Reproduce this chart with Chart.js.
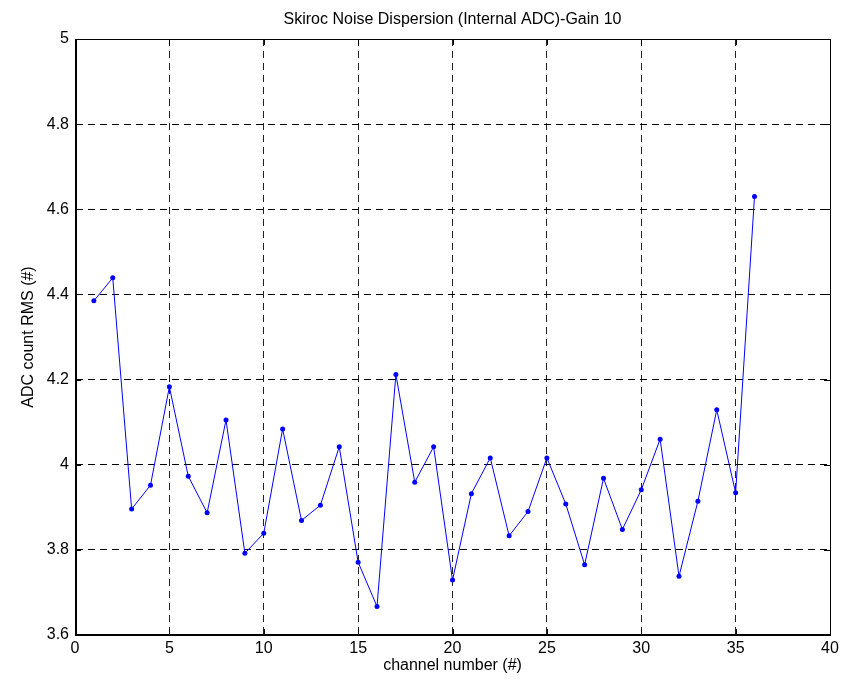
<!DOCTYPE html>
<html>
<head>
<meta charset="utf-8">
<script src="https://cdn.jsdelivr.net/npm/chart.js@4/dist/chart.umd.min.js"></script>
<style>
  html, body { margin: 0; padding: 0; background: #fff; }
  #grafico { display: block; }
</style>
</head>
<body>
<canvas id="grafico" width="847" height="680"></canvas>
<script>
// datos
const canales = [1, 2, 3, 4, 5, 6, 7, 8, 9, 10, 11, 12, 13, 14, 15, 16, 17, 18,
  19, 20, 21, 22, 23, 24, 25, 26, 27, 28, 29, 30, 31, 32, 33, 34, 35, 36];
const ruidoRms = [4.385, 4.439, 3.896, 3.952, 4.183, 3.973, 3.887, 4.105, 3.792, 3.839,
  4.084, 3.869, 3.905, 4.042, 3.771, 3.667, 4.212, 3.959, 4.042, 3.729,
  3.932, 4.016, 3.833, 3.890, 4.016, 3.908, 3.765, 3.968, 3.848, 3.941,
  4.060, 3.738, 3.914, 4.129, 3.934, 4.630];
const ticksX = [0, 5, 10, 15, 20, 25, 30, 35, 40];
const ticksY = [3.6, 3.8, 4, 4.2, 4.4, 4.6, 4.8, 5];

const titulo = "Skiroc Noise Dispersion (Internal ADC)-Gain 10";
const etiquetaX = "channel number (#)";
const etiquetaY = "ADC count RMS (#)";

const fuente = "Arial, 'Liberation Sans', sans-serif";
const rayas = [7, 5];

// marco tipo matlab: caja, ejes gruesos y marcas hacia dentro
const marco = {
  id: "marco",
  afterDraw(chart) {
    const a = chart.chartArea;
    const c = chart.ctx;
    const l = Math.round(a.left), r = Math.round(a.right);
    const t = Math.round(a.top), b = Math.round(a.bottom);
    c.save();
    c.strokeStyle = "#000";
    c.fillStyle = "#000";
    c.lineWidth = 1;
    c.setLineDash([]);
    c.strokeRect(l + 0.5, t + 0.5, r - l, b - t);
    c.fillRect(l, b - 1, r - l + 1, 2);
    c.fillRect(l, t, 2, b - t + 1);
    c.beginPath();
    for (const v of ticksX) {
      const px = Math.round(chart.scales.x.getPixelForValue(v)) + 0.5;
      c.moveTo(px, b); c.lineTo(px, b - 6);
      c.moveTo(px, t); c.lineTo(px, t + 6);
    }
    for (const v of ticksY) {
      const py = Math.round(chart.scales.y.getPixelForValue(v)) + 0.5;
      c.moveTo(l, py); c.lineTo(l + 6, py);
      c.moveTo(r, py); c.lineTo(r - 6, py);
    }
    c.stroke();
    c.restore();
  }
};

const ctx = document.getElementById("grafico").getContext("2d");
const grafico = new Chart(ctx, {
  type: "line",
  data: {
    datasets: [{
      data: canales.map((c, i) => ({ x: c, y: ruidoRms[i] })),
      borderColor: "#0000ff",
      backgroundColor: "#0000ff",
      borderWidth: 1,
      pointRadius: 2.5,
      pointBorderWidth: 0,
      tension: 0,
      fill: false
    }]
  },
  options: {
    responsive: false,
    animation: false,
    layout: { padding: { left: 0, right: 17, top: 0, bottom: 0 } },
    plugins: {
      legend: { display: false },
      tooltip: { enabled: false },
      title: {
        display: true,
        text: titulo,
        fullSize: false,
        color: "#000",
        font: { family: fuente, size: 16, weight: "normal" },
        padding: { top: 10, bottom: 9.8 }
      }
    },
    scales: {
      x: {
        type: "linear",
        min: 0,
        max: 40,
        afterBuildTicks: s => { s.ticks = ticksX.map(v => ({ value: v })); },
        afterFit: s => { s.height = 45; },
        ticks: {
          color: "#000",
          font: { family: fuente, size: 16 },
          padding: 4,
          maxRotation: 0
        },
        grid: { color: "#222", lineWidth: 1, drawTicks: false },
        border: { display: true, color: "#000", dash: rayas },
        title: {
          display: true,
          text: etiquetaX,
          color: "#000",
          font: { family: fuente, size: 16 },
          padding: { top: 0, bottom: 5 }
        }
      },
      y: {
        min: 3.6,
        max: 5,
        afterBuildTicks: s => { s.ticks = ticksY.map(v => ({ value: v })); },
        afterFit: s => { s.width = 75; },
        ticks: {
          color: "#000",
          font: { family: fuente, size: 16 },
          padding: 6,
          callback: v => String(+v.toFixed(1))
        },
        grid: { color: "#000", lineWidth: 1, drawTicks: false },
        border: { display: true, color: "#000", dash: rayas },
        title: {
          display: true,
          text: etiquetaY,
          color: "#000",
          font: { family: fuente, size: 16 },
          padding: { top: 19, bottom: 0 }
        }
      }
    }
  },
  plugins: [marco]
});
</script>
</body>
</html>
